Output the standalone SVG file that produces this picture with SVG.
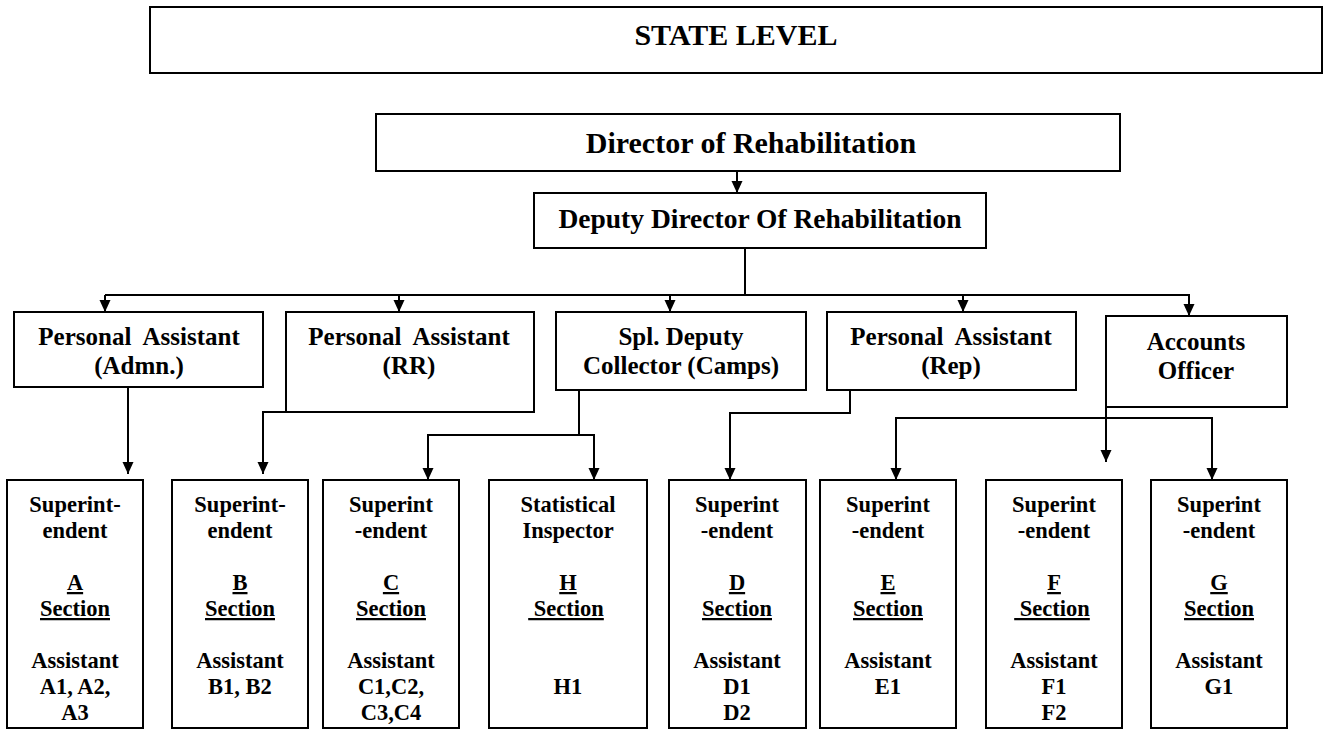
<svg xmlns="http://www.w3.org/2000/svg" width="1326" height="730" viewBox="0 0 1326 730">
<style>
rect.b{fill:#fff;stroke:#000;stroke-width:2}
text{font-family:"Liberation Serif","Times New Roman",serif;font-weight:bold;fill:#000;text-anchor:middle}
.t1{font-size:30px}
.t2{font-size:27.5px}
.m{font-size:25px}
.s{font-size:22.5px}
.u{text-decoration:underline}
.c{fill:none;stroke:#000;stroke-width:2}
</style>
<defs>
<marker id="ah" viewBox="0 0 12 12" markerWidth="12" markerHeight="12" markerUnits="userSpaceOnUse" refX="12" refY="6" orient="auto">
<path d="M0,0.5 L12,6 L0,11.5 z" fill="#000"/>
</marker>
</defs>
<rect width="1326" height="730" fill="#fff"/>

<g id="connectors">
<line class="c" x1="737" y1="171" x2="737" y2="193" marker-end="url(#ah)"/>
<polyline class="c" points="745,248 745,295"/>
<polyline class="c" points="105,295 1189,295"/>
<line class="c" x1="105" y1="295" x2="105" y2="312" marker-end="url(#ah)"/>
<line class="c" x1="399" y1="295" x2="399" y2="312" marker-end="url(#ah)"/>
<line class="c" x1="670" y1="295" x2="670" y2="312" marker-end="url(#ah)"/>
<line class="c" x1="963" y1="295" x2="963" y2="312" marker-end="url(#ah)"/>
<line class="c" x1="1189" y1="294" x2="1189" y2="316" marker-end="url(#ah)"/>
<line class="c" x1="128" y1="387" x2="128" y2="474" marker-end="url(#ah)"/>
<polyline class="c" points="287,412 263,412 263,474" marker-end="url(#ah)"/>
<polyline class="c" points="579,390 579,435"/>
<polyline class="c" points="428,435 594,435"/>
<line class="c" x1="428" y1="434" x2="428" y2="480" marker-end="url(#ah)"/>
<line class="c" x1="594" y1="434" x2="594" y2="480" marker-end="url(#ah)"/>
<polyline class="c" points="850,390 850,413 730,413 730,480" marker-end="url(#ah)"/>
<line class="c" x1="1106" y1="407" x2="1106" y2="462" marker-end="url(#ah)"/>
<polyline class="c" points="896,418 1212,418"/>
<line class="c" x1="896" y1="417" x2="896" y2="480" marker-end="url(#ah)"/>
<line class="c" x1="1212" y1="417" x2="1212" y2="480" marker-end="url(#ah)"/>
</g>

<g id="state-level">
<rect class="b" x="150" y="7" width="1172" height="66"/>
<text class="t1" x="736" y="45">STATE LEVEL</text>
</g>

<g id="director">
<rect class="b" x="376" y="114" width="744" height="57"/>
<text class="t1" x="751" y="153">Director of Rehabilitation</text>
</g>

<g id="deputy-director">
<rect class="b" x="534" y="193" width="452" height="55"/>
<text class="t2" x="760" y="228">Deputy Director Of Rehabilitation</text>
</g>

<g id="pa-admn">
<rect class="b" x="14" y="312" width="249" height="75"/>
<text class="m" x="139" y="345" xml:space="preserve">Personal  Assistant</text>
<text class="m" x="139" y="374">(Admn.)</text>
</g>

<g id="pa-rr">
<rect class="b" x="286" y="312" width="248" height="100"/>
<text class="m" x="409" y="345" xml:space="preserve">Personal  Assistant</text>
<text class="m" x="409" y="374">(RR)</text>
</g>

<g id="spl-deputy-collector">
<rect class="b" x="556" y="312" width="250" height="78"/>
<text class="m" x="681" y="345">Spl. Deputy</text>
<text class="m" x="681" y="374">Collector (Camps)</text>
</g>

<g id="pa-rep">
<rect class="b" x="827" y="312" width="249" height="78"/>
<text class="m" x="951" y="345" xml:space="preserve">Personal  Assistant</text>
<text class="m" x="951" y="374">(Rep)</text>
</g>

<g id="accounts-officer">
<rect class="b" x="1106" y="316" width="181" height="91"/>
<text class="m" x="1196" y="350">Accounts</text>
<text class="m" x="1196" y="379">Officer</text>
</g>

<g id="section-a">
<rect class="b" x="7" y="480" width="136" height="248"/>
<text class="s" x="75" y="512">Superint-</text>
<text class="s" x="75" y="538">endent</text>
<text class="s u" x="75" y="590">A</text>
<text class="s u" x="75" y="616">Section</text>
<text class="s" x="75" y="668">Assistant</text>
<text class="s" x="75" y="694">A1, A2,</text>
<text class="s" x="75" y="720">A3</text>
</g>

<g id="section-b">
<rect class="b" x="172" y="480" width="136" height="248"/>
<text class="s" x="240" y="512">Superint-</text>
<text class="s" x="240" y="538">endent</text>
<text class="s u" x="240" y="590">B</text>
<text class="s u" x="240" y="616">Section</text>
<text class="s" x="240" y="668">Assistant</text>
<text class="s" x="240" y="694">B1, B2</text>
</g>

<g id="section-c">
<rect class="b" x="323" y="480" width="136" height="248"/>
<text class="s" x="391" y="512">Superint</text>
<text class="s" x="391" y="538">-endent</text>
<text class="s u" x="391" y="590">C</text>
<text class="s u" x="391" y="616">Section</text>
<text class="s" x="391" y="668">Assistant</text>
<text class="s" x="391" y="694">C1,C2,</text>
<text class="s" x="391" y="720">C3,C4</text>
</g>

<g id="section-h">
<rect class="b" x="489" y="480" width="158" height="248"/>
<text class="s" x="568" y="512">Statistical</text>
<text class="s" x="568" y="538">Inspector</text>
<text class="s u" x="568" y="590">H</text>
<text class="s u" x="566" y="616" xml:space="preserve"> Section</text>
<text class="s" x="568" y="694">H1</text>
</g>

<g id="section-d">
<rect class="b" x="669" y="480" width="137" height="248"/>
<text class="s" x="737" y="512">Superint</text>
<text class="s" x="737" y="538">-endent</text>
<text class="s u" x="737" y="590">D</text>
<text class="s u" x="737" y="616">Section</text>
<text class="s" x="737" y="668">Assistant</text>
<text class="s" x="737" y="694">D1</text>
<text class="s" x="737" y="720">D2</text>
</g>

<g id="section-e">
<rect class="b" x="820" y="480" width="136" height="248"/>
<text class="s" x="888" y="512">Superint</text>
<text class="s" x="888" y="538">-endent</text>
<text class="s u" x="888" y="590">E</text>
<text class="s u" x="888" y="616">Section</text>
<text class="s" x="888" y="668">Assistant</text>
<text class="s" x="888" y="694">E1</text>
</g>

<g id="section-f">
<rect class="b" x="986" y="480" width="136" height="248"/>
<text class="s" x="1054" y="512">Superint</text>
<text class="s" x="1054" y="538">-endent</text>
<text class="s u" x="1054" y="590">F</text>
<text class="s u" x="1052" y="616" xml:space="preserve"> Section</text>
<text class="s" x="1054" y="668">Assistant</text>
<text class="s" x="1054" y="694">F1</text>
<text class="s" x="1054" y="720">F2</text>
</g>

<g id="section-g">
<rect class="b" x="1151" y="480" width="136" height="248"/>
<text class="s" x="1219" y="512">Superint</text>
<text class="s" x="1219" y="538">-endent</text>
<text class="s u" x="1219" y="590">G</text>
<text class="s u" x="1219" y="616">Section</text>
<text class="s" x="1219" y="668">Assistant</text>
<text class="s" x="1219" y="694">G1</text>
</g>
</svg>
